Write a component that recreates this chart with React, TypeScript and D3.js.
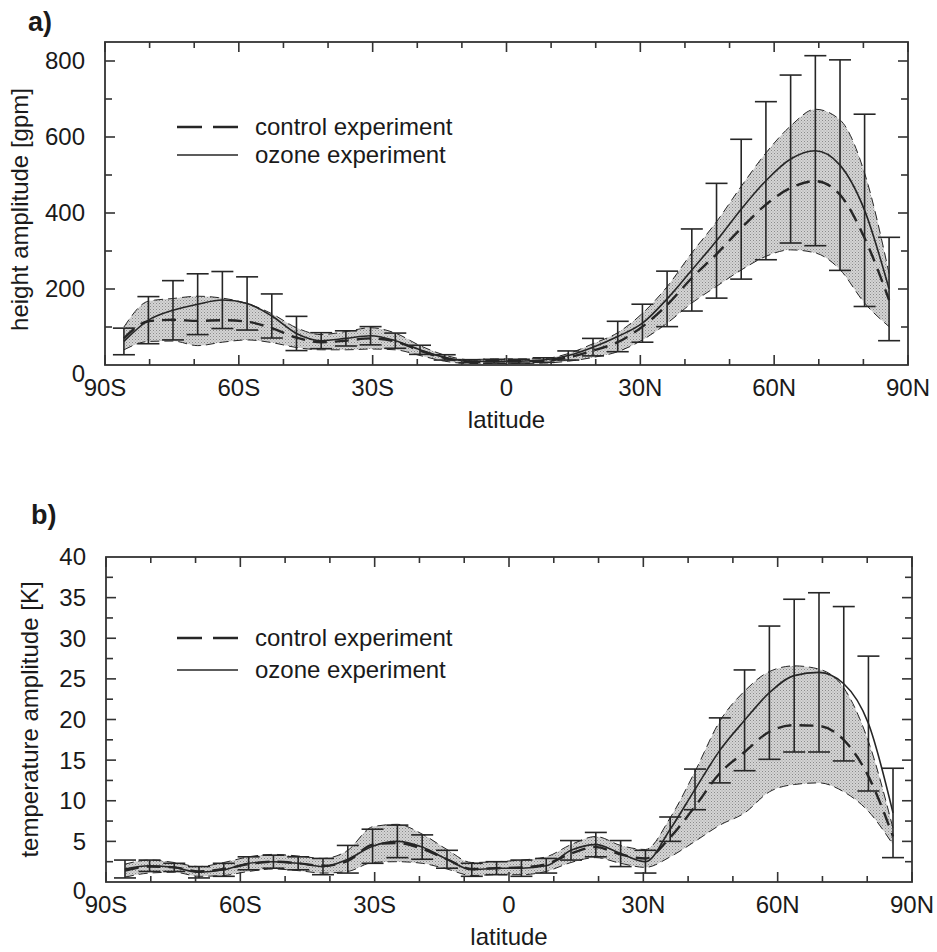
import React, { useRef, useEffect } from "react";
import * as d3 from "d3";

// T21 Gaussian latitudes, south (negative) to north
const latitudes = [
  -85.76, -80.27, -74.76, -69.23, -63.69, -58.15, -52.61, -47.08, -41.54, -36.0, -30.47, -24.93, -19.39, -13.85, -8.31, -2.77,
  2.77, 8.31, 13.85, 19.39, 24.93, 30.47, 36.0, 41.54, 47.08, 52.61, 58.15, 63.69, 69.23, 74.76, 80.27, 85.76,
];

// panel a: height amplitude [gpm]
const heightControlMean = [
  70, 115, 119, 116, 118, 114, 97, 72, 60, 64, 70, 62, 38, 18, 9, 10,
  10, 11, 20, 38, 60, 101, 158, 229, 292, 360, 422, 466, 484, 448, 334, 171,
];
const heightControlStd = [
  30, 53, 56, 65, 58, 48, 38, 26, 20, 24, 28, 22, 13, 8, 5, 6,
  6, 6, 10, 18, 25, 35, 48, 66, 85, 110, 136, 163, 189, 197, 171, 70,
];
const heightOzoneMean = [
  62, 118, 144, 160, 171, 162, 129, 83, 64, 70, 77, 64, 40, 20, 10, 10,
  10, 13, 25, 47, 75, 110, 174, 250, 327, 410, 485, 542, 564, 526, 407, 200,
];
const heightOzoneStd = [
  35, 62, 78, 80, 75, 70, 58, 45, 21, 20, 24, 20, 12, 7, 4, 5,
  5, 6, 12, 23, 40, 50, 73, 108, 151, 184, 208, 221, 250, 277, 253, 136,
];

// panel b: temperature amplitude [K]
const tempControlMean = [
  1.4, 1.9, 1.8, 1.3, 1.6, 2.2, 2.5, 2.3, 2.0, 2.6, 4.6, 4.8, 4.1, 2.8, 1.6, 1.7,
  1.8, 2.2, 3.5, 4.3, 3.4, 2.9, 5.5, 9.3, 13.4, 16.0, 18.5, 19.3, 19.2, 17.5, 13.0, 5.6,
];
const tempControlStd = [
  0.8, 0.8, 0.6, 0.6, 0.8, 0.9, 0.9, 0.9, 0.9, 1.3, 2.2, 2.3, 1.8, 1.2, 0.8, 0.8,
  0.9, 0.9, 1.1, 1.3, 1.1, 1.1, 2.4, 4.3, 6.4, 7.5, 7.4, 7.3, 7.0, 6.4, 4.3, 1.0,
];
const tempOzoneMean = [
  1.6, 2.0, 1.8, 1.2, 1.5, 2.3, 2.5, 2.3, 1.9, 2.8, 4.4, 5.0, 4.3, 2.8, 1.5, 1.7,
  1.7, 2.0, 3.9, 4.6, 3.5, 2.5, 6.5, 11.4, 16.2, 19.9, 23.3, 25.4, 25.8, 24.4, 19.5, 8.5,
];
const tempOzoneStd = [
  1.1, 0.7, 0.5, 0.7, 0.8, 0.8, 0.8, 0.8, 1.0, 1.7, 2.1, 2.0, 1.5, 1.1, 0.8, 0.8,
  1.0, 0.9, 1.2, 1.5, 1.6, 1.4, 1.5, 2.5, 4.0, 6.2, 8.2, 9.4, 9.8, 9.5, 8.3, 5.5,
];

const latTicks = [-90, -60, -30, 0, 30, 60, 90];
const latTickLabels = ["90S", "60S", "30S", "0", "30N", "60N", "90N"];
const latMinorTicks = [-80, -70, -50, -40, -20, -10, 10, 20, 40, 50, 70, 80];
const heightTicks = [0, 200, 400, 600, 800];
const heightMinorTicks = [100, 300, 500, 700];
const tempTicks = [0, 5, 10, 15, 20, 25, 30, 35, 40];
const tempMinorTicks = [2.5, 7.5, 12.5, 17.5, 22.5, 27.5, 32.5, 37.5];
const legendLabels = ["control experiment", "ozone experiment"];

const FONT = "Liberation Sans, Arial, Helvetica, sans-serif";
const INK = "#262626";
const FS = 24;

function drawPanel(svg, cfg) {
  const { left, right, top, bottom, yMax } = cfg;
  const x = d3.scaleLinear().domain([-90, 90]).range([left, right]);
  const y = d3.scaleLinear().domain([0, yMax]).range([bottom, top]);

  const rows = latitudes.map((lat, i) => ({
    lat,
    cm: cfg.controlMean[i],
    cs: cfg.controlStd[i],
    om: cfg.ozoneMean[i],
    os: cfg.ozoneStd[i],
  }));

  const g = svg.append("g");
  const curve = d3.curveMonotoneX;

  // control spread (shaded)
  g.append("path")
    .datum(rows)
    .attr("fill", "url(#stipple)")
    .attr("d", d3.area().curve(curve).x((d) => x(d.lat)).y0((d) => y(Math.max(0, d.cm - d.cs))).y1((d) => y(d.cm + d.cs)));

  const edge = (f) => d3.line().curve(curve).x((d) => x(d.lat)).y((d) => y(f(d)));
  [(d) => d.cm + d.cs, (d) => Math.max(0, d.cm - d.cs)].forEach((f) => {
    g.append("path")
      .datum(rows)
      .attr("fill", "none")
      .attr("stroke", INK)
      .attr("stroke-width", 1)
      .attr("stroke-dasharray", "9,5")
      .attr("d", edge(f));
  });

  // control mean
  g.append("path")
    .datum(rows)
    .attr("fill", "none")
    .attr("stroke", INK)
    .attr("stroke-width", 2.4)
    .attr("stroke-dasharray", "14,8")
    .attr("d", edge((d) => d.cm));

  // ozone mean
  g.append("path")
    .datum(rows)
    .attr("fill", "none")
    .attr("stroke", INK)
    .attr("stroke-width", 1.6)
    .attr("d", edge((d) => d.om));

  // ozone error bars
  const bars = g.append("g").attr("stroke", INK).attr("stroke-width", 1.6);
  rows.forEach((d) => {
    const lo = y(Math.max(0, d.om - d.os));
    const hi = y(d.om + d.os);
    const cx = x(d.lat);
    bars.append("line").attr("x1", cx).attr("x2", cx).attr("y1", lo).attr("y2", hi);
    bars.append("line").attr("x1", cx - 11).attr("x2", cx + 11).attr("y1", lo).attr("y2", lo);
    bars.append("line").attr("x1", cx - 11).attr("x2", cx + 11).attr("y1", hi).attr("y2", hi);
  });

  // frame
  g.append("rect")
    .attr("x", left)
    .attr("y", top)
    .attr("width", right - left)
    .attr("height", bottom - top)
    .attr("fill", "none")
    .attr("stroke", "#333")
    .attr("stroke-width", 1.8);

  // ticks
  const ticks = g.append("g").attr("stroke", "#333").attr("stroke-width", 1.6);
  const xt = (v, len) => {
    ticks.append("line").attr("x1", x(v)).attr("x2", x(v)).attr("y1", bottom).attr("y2", bottom - len);
    ticks.append("line").attr("x1", x(v)).attr("x2", x(v)).attr("y1", top).attr("y2", top + len);
  };
  latTicks.forEach((v) => xt(v, 10));
  latMinorTicks.forEach((v) => xt(v, 6));
  const yt = (v, len) => {
    if (y(v) <= top + 1 || y(v) >= bottom - 1) return;
    ticks.append("line").attr("x1", left).attr("x2", left + len).attr("y1", y(v)).attr("y2", y(v));
    ticks.append("line").attr("x1", right).attr("x2", right - len).attr("y1", y(v)).attr("y2", y(v));
  };
  cfg.yTicks.forEach((v) => yt(v, 10));
  cfg.yMinorTicks.forEach((v) => yt(v, 7));

  const txt = g.append("g").attr("font-family", FONT).attr("fill", "#1a1a1a");

  latTicks.forEach((v, i) => {
    txt.append("text")
      .attr("x", x(v))
      .attr("y", bottom + 31)
      .attr("text-anchor", "middle")
      .attr("font-size", FS)
      .text(latTickLabels[i]);
  });
  cfg.yTicks.forEach((v) => {
    txt.append("text")
      .attr("x", left - 20)
      .attr("y", y(v) + (v === 0 ? 9 : 0))
      .attr("dy", "0.35em")
      .attr("text-anchor", "end")
      .attr("font-size", FS)
      .text(v);
  });

  txt.append("text")
    .attr("x", (left + right) / 2)
    .attr("y", bottom + 63)
    .attr("text-anchor", "middle")
    .attr("font-size", FS)
    .text("latitude");

  txt.append("text")
    .attr("transform", `translate(${cfg.yTitleX},${(top + bottom) / 2 + cfg.yTitleShift}) rotate(-90)`)
    .attr("text-anchor", "middle")
    .attr("font-size", FS)
    .text(cfg.yTitle);

  txt.append("text")
    .attr("x", cfg.tagX)
    .attr("y", cfg.tagY)
    .attr("font-size", 27)
    .attr("font-weight", "bold")
    .text(cfg.tag);

  // legend
  const lg = g.append("g");
  cfg.legendY.forEach((ly, i) => {
    lg.append("line")
      .attr("x1", 177)
      .attr("x2", 238)
      .attr("y1", ly)
      .attr("y2", ly)
      .attr("stroke", INK)
      .attr("stroke-width", i === 0 ? 2.6 : 1.3)
      .attr("stroke-dasharray", i === 0 ? "25,11" : null);
    lg.append("text")
      .attr("x", 255)
      .attr("y", ly)
      .attr("dy", "0.35em")
      .attr("font-family", FONT)
      .attr("font-size", FS)
      .attr("fill", "#1a1a1a")
      .text(legendLabels[i]);
  });
}

export default function App() {
  const svgRef = useRef(null);

  useEffect(() => {
    const svg = d3.select(svgRef.current);
    svg.selectAll("*").remove();

    const defs = svg.append("defs");
    const pat = defs.append("pattern")
      .attr("id", "stipple")
      .attr("width", 3)
      .attr("height", 3)
      .attr("patternUnits", "userSpaceOnUse");
    pat.append("rect").attr("width", 3).attr("height", 3).attr("fill", "#d4d4d4");
    pat.append("rect").attr("width", 1).attr("height", 1).attr("fill", "#8a8a8a");
    pat.append("rect").attr("x", 1.5).attr("y", 1.5).attr("width", 1).attr("height", 1).attr("fill", "#a0a0a0");

    drawPanel(svg, {
      left: 105, right: 908, top: 42, bottom: 365, yMax: 850,
      controlMean: heightControlMean, controlStd: heightControlStd,
      ozoneMean: heightOzoneMean, ozoneStd: heightOzoneStd,
      yTicks: heightTicks, yMinorTicks: heightMinorTicks,
      yTitle: "height amplitude [gpm]", yTitleX: 28, yTitleShift: 6,
      tag: "a)", tagX: 28, tagY: 31,
      legendY: [127, 155],
    });

    drawPanel(svg, {
      left: 106, right: 912, top: 557, bottom: 882, yMax: 40,
      controlMean: tempControlMean, controlStd: tempControlStd,
      ozoneMean: tempOzoneMean, ozoneStd: tempOzoneStd,
      yTicks: tempTicks, yMinorTicks: tempMinorTicks,
      yTitle: "temperature amplitude [K]", yTitleX: 38, yTitleShift: 0,
      tag: "b)", tagX: 31, tagY: 524,
      legendY: [638, 670],
    });
  }, []);

  return (
    <svg
      ref={svgRef}
      width={937}
      height={952}
      style={{ position: "absolute", left: 0, top: 0, background: "#fff" }}
    />
  );
}
